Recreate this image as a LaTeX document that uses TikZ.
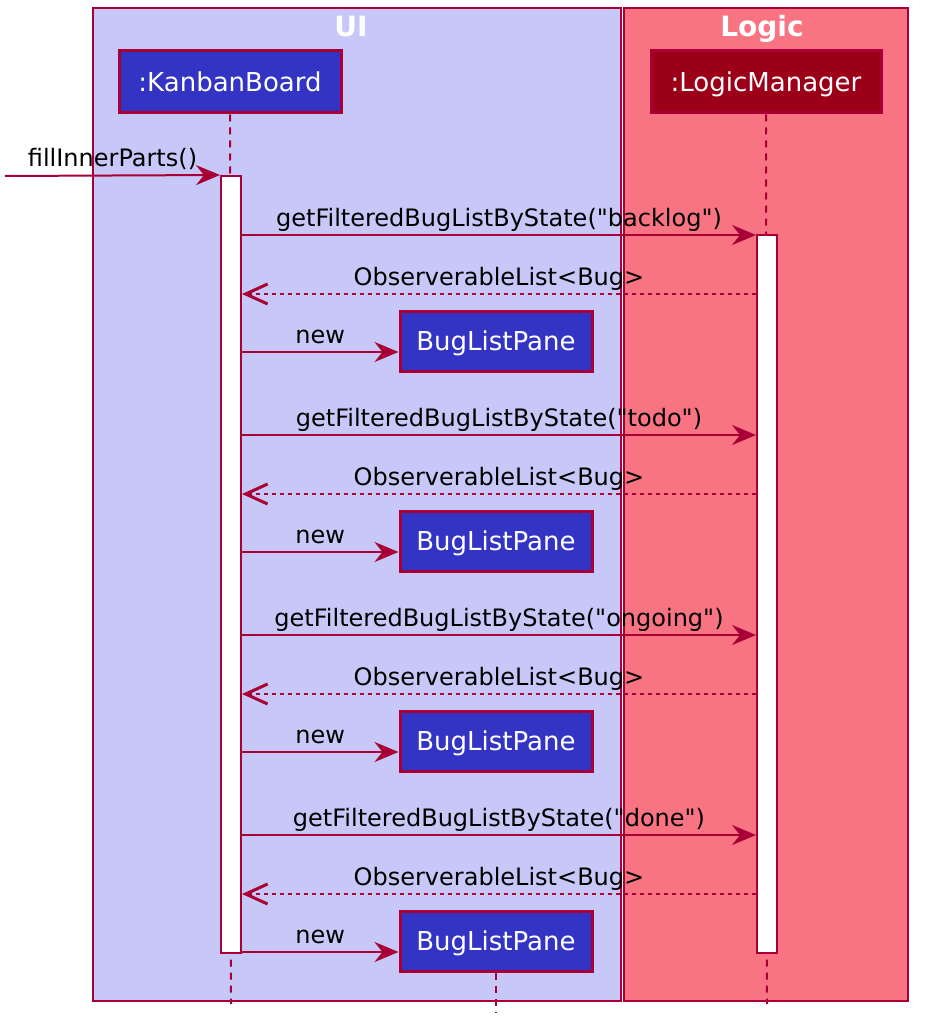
\documentclass[tikz,border=0pt]{standalone}
\usepackage{fontspec}
\setmainfont{DejaVu Sans}
\usetikzlibrary{arrows.meta}
\definecolor{crim}{HTML}{A80036}
\definecolor{uifill}{HTML}{C8C8F8}
\definecolor{logicfill}{HTML}{F97482}
\definecolor{partblue}{HTML}{3333C4}
\definecolor{partred}{HTML}{9C0018}
\begin{document}
\begin{tikzpicture}[x=1pt,y=-1pt,
  frame/.style={draw=crim, line width=2pt},
  frametitle/.style={text=white, anchor=base, font=\fontsize{28}{31}\selectfont\bfseries, inner sep=0pt},
  part/.style={draw=crim, line width=3pt, text=white, font=\fontsize{26}{30}\selectfont, inner sep=0pt, text depth=0pt},
  act/.style={draw=crim, fill=white, line width=2pt, minimum width=20pt, inner sep=0pt},
  life/.style={draw=crim, line width=2pt, dash pattern=on 7pt off 6pt},
  msg/.style={draw=crim, line width=2pt, -{Stealth[length=24pt,width=20pt,inset=8pt]}},
  ret/.style={draw=crim, line width=2pt, dash pattern=on 4pt off 4pt, -{Straight Barb[length=22pt,width=20pt,line width=3pt]}},
  lbl/.style={anchor=base, yshift=9pt, inner sep=0pt, font=\fontsize{24}{28}\selectfont, text=black}]
\useasboundingbox (0,0) rectangle (928,1035);
% frames
\fill[uifill] (93,8) rectangle (621,1001);
\draw[frame] (93,8) rectangle (621,1001);
\fill[logicfill] (624,8) rectangle (908,1001);
\draw[frame] (624,8) rectangle (908,1001);
\node[frametitle] (uit) at (351,37) {UI};
\node[frametitle] (lot) at (762,37) {Logic};
% participants
\node[part, fill=partblue, minimum width=222pt, minimum height=62pt] (kb) at (230,82) {:KanbanBoard};
\node[part, fill=partred, minimum width=230pt, minimum height=62pt] (lm) at (766,82) {:LogicManager};
% lifelines
\coordinate (kbend) at (231,1004);
\coordinate (lmend) at (767,1004);
\draw[life] (kb.south) -- (kbend);
\draw[life] (lm.south) -- (lmend);
% activations
\node[act, minimum height=777pt] (kbact) at (231,564.5) {};
\node[act, minimum height=718pt] (lmact) at (767,594) {};
% incoming call
\coordinate (caller) at (5,176);
\draw[msg] (caller) -- node[lbl]{fillInnerParts()} (kbact.north west);
% repeated calls
\foreach \i/\st in {0/backlog,1/todo,2/ongoing,3/done}{
  \pgfmathsetmacro{\ya}{235+200*\i}
  \pgfmathsetmacro{\yb}{294+200*\i}
  \pgfmathsetmacro{\yc}{352+200*\i}
  \pgfmathsetmacro{\yd}{341+200*\i}
  \node[part, fill=partblue, minimum width=192pt, minimum height=60pt] (bp\i) at (496,\yd) {BugListPane};
  \draw[msg] (kbact.east |- 0,\ya) -- node[lbl]{getFilteredBugListByState(\textquotedbl\st\textquotedbl)} (lmact.west |- 0,\ya);
  \draw[ret] (lmact.west |- 0,\yb) -- node[lbl]{ObserverableList<Bug>} (kbact.east |- 0,\yb);
  \draw[msg] (kbact.east |- 0,\yc) -- node[lbl]{new} (bp\i.west |- 0,\yc);
}
\coordinate (bpend) at (496,1013);
\draw[life] (bp3.south) -- (bpend);
\end{tikzpicture}
\end{document}
